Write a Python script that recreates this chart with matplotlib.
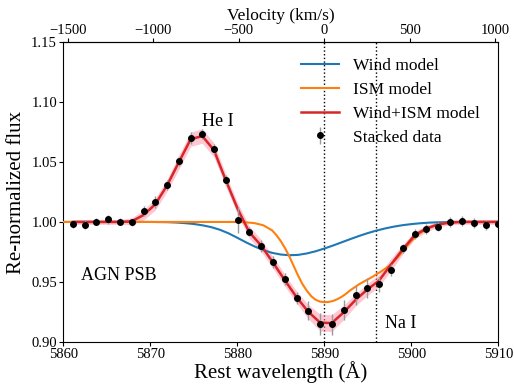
import numpy as np
import matplotlib
matplotlib.use("Agg")
import matplotlib.pyplot as plt

plt.rcParams['font.family'] = ['Liberation Serif', 'DejaVu Serif']
plt.rcParams['axes.unicode_minus'] = True

# stacked spectrum (rest wavelength, flux, error)
wave = [5861.11, 5862.46, 5863.79, 5865.17, 5866.52, 5867.86, 5869.24, 5870.57,
        5871.92, 5873.26, 5874.64, 5875.98, 5877.32, 5878.67, 5880.04, 5881.38,
        5882.72, 5884.07, 5885.45, 5886.83, 5888.16, 5889.51, 5890.85, 5892.23,
        5893.61, 5894.94, 5896.29, 5897.67, 5899.01, 5900.39, 5901.72, 5903.10,
        5904.48, 5905.83, 5907.17, 5908.55, 5909.93]
flux = [0.998, 0.9977, 1.0002, 1.0022, 1.0002, 0.9997, 1.0091, 1.0166,
        1.0308, 1.0506, 1.0698, 1.0734, 1.0609, 1.0348, 1.0016, 0.9919,
        0.9802, 0.9666, 0.9521, 0.9365, 0.9259, 0.9148, 0.9145, 0.9265,
        0.9387, 0.9448, 0.9479, 0.9601, 0.978, 0.9899, 0.9939, 0.9961,
        1.0002, 1.0008, 0.9989, 0.9972, 0.9985]
err = [0.003, 0.004, 0.003, 0.004, 0.003, 0.003, 0.004, 0.005,
       0.004, 0.004, 0.005, 0.004, 0.004, 0.004, 0.011, 0.004,
       0.005, 0.005, 0.005, 0.005, 0.008, 0.009, 0.009, 0.008,
       0.008, 0.008, 0.006, 0.005, 0.004, 0.004, 0.004, 0.004,
       0.004, 0.004, 0.004, 0.004, 0.004]

# combined model on the data grid, with its uncertainty band
model = [1.0, 1.0, 1.0, 1.0, 1.0, 1.0005, 1.0058, 1.0147,
         1.0303, 1.0495, 1.069, 1.0718, 1.060, 1.035, 1.011, 0.9915,
         0.9805, 0.9665, 0.9515, 0.937, 0.925, 0.916, 0.9155, 0.9245,
         0.935, 0.9435, 0.951, 0.9645, 0.977, 0.989, 0.9945, 0.998,
         0.9995, 1.0, 1.0, 1.0, 1.0]
model_err = [0.002, 0.002, 0.002, 0.002, 0.002, 0.003, 0.004, 0.005,
             0.005, 0.006, 0.006, 0.006, 0.006, 0.005, 0.005, 0.005,
             0.005, 0.005, 0.005, 0.005, 0.006, 0.007, 0.007, 0.006,
             0.005, 0.005, 0.005, 0.005, 0.004, 0.003, 0.003, 0.002,
             0.002, 0.002, 0.002, 0.002, 0.002]

# wind component
wind_wave = [5860, 5870, 5872, 5873, 5874, 5875, 5876, 5877, 5878, 5879, 5880,
             5881, 5882, 5883, 5884, 5885, 5886, 5887, 5888, 5889, 5890, 5891,
             5892, 5893, 5894, 5895, 5896, 5897, 5898, 5899, 5900, 5901, 5902,
             5903, 5905, 5910]
wind_flux = [1.0, 1.0, 0.9998, 0.9995, 0.999, 0.9983, 0.9972, 0.9957, 0.9935,
             0.9905, 0.9868, 0.983, 0.9795, 0.9765, 0.9742, 0.9728, 0.9722,
             0.9725, 0.9737, 0.9755, 0.9778, 0.9803, 0.983, 0.9857, 0.9883,
             0.9907, 0.9928, 0.9946, 0.9961, 0.9973, 0.9982, 0.9989, 0.9994,
             0.9997, 1.0, 1.0]

# ISM component
ism_wave = [5860, 5880, 5881, 5882, 5883, 5884, 5884.5, 5885, 5885.5, 5886,
            5886.5, 5887, 5887.5, 5888, 5888.5, 5889, 5889.5, 5890, 5890.5,
            5891, 5891.5, 5892, 5892.5, 5893, 5893.5, 5894, 5894.5, 5895,
            5895.5, 5896, 5896.5, 5897, 5897.5, 5898, 5898.5, 5899, 5899.5,
            5900, 5900.5, 5901, 5901.5, 5902, 5903, 5904, 5905, 5906, 5910]
ism_flux = [1.0, 1.0, 0.9997, 0.999, 0.9972, 0.993, 0.989, 0.984, 0.978, 0.971,
            0.963, 0.955, 0.948, 0.9425, 0.938, 0.935, 0.9335, 0.933, 0.9332,
            0.934, 0.9355, 0.9375, 0.940, 0.943, 0.9455, 0.948, 0.950, 0.952,
            0.954, 0.9563, 0.9585, 0.961, 0.9635, 0.967, 0.971, 0.9755, 0.980,
            0.984, 0.9875, 0.9905, 0.993, 0.995, 0.9978, 0.9992, 0.9998, 1.0, 1.0]

lam0 = 5890.0
c_kms = 299792.458


def to_vel(x):
    return (np.asarray(x) - lam0) / lam0 * c_kms


def to_wave(v):
    return lam0 * (1 + np.asarray(v) / c_kms)


fig = plt.figure(figsize=(5.14, 3.85), dpi=100)
ax = fig.add_axes([0.123, 0.1125, 0.8465, 0.7775])

ax.plot(wind_wave, wind_flux, color='#1f77b4', lw=1.5, label='Wind model', zorder=3)
ax.plot(ism_wave, ism_flux, color='#ff7f0e', lw=1.5, label='ISM model', zorder=3)
lo = np.array(model) - np.array(model_err)
hi = np.array(model) + np.array(model_err)
ax.fill_between(wave, lo, hi, color='#ff8fa8', alpha=0.5, lw=0, zorder=2)
ax.plot(wave, model, color='#d62728', lw=1.8, label='Wind+ISM model', zorder=4)
ax.errorbar(wave, flux, yerr=err, fmt='o', color='black', ms=4,
            ecolor='#999999', elinewidth=1, label='Stacked data', zorder=5)

ax.axvline(5890, color='black', ls=':', lw=1, zorder=1)
ax.axvline(5896, color='black', ls=':', lw=1, zorder=1)

ax.text(5876.0, 1.077, 'He I', fontsize=13, ha='left', va='bottom')
ax.text(5897.0, 0.908, 'Na I', fontsize=13, ha='left', va='bottom')
ax.text(5862.1, 0.9485, 'AGN PSB', fontsize=13, ha='left', va='bottom')

ax.set_xlim(5860, 5910)
ax.set_ylim(0.90, 1.15)
ax.set_xticks(np.arange(5860, 5911, 10))
ax.set_yticks(np.arange(0.90, 1.151, 0.05))
ax.set_yticklabels(['{:.2f}'.format(v) for v in np.arange(0.90, 1.151, 0.05)])
ax.tick_params(labelsize=10.5, length=3, width=0.8, pad=1.5)
ax.set_xlabel('Rest wavelength (Å)', fontsize=15, labelpad=0)
ax.set_ylabel('Re-normalized flux', fontsize=15, labelpad=4)

top = ax.secondary_xaxis('top', functions=(to_vel, to_wave))
top.set_xticks([-1500, -1000, -500, 0, 500, 1000])
top.tick_params(labelsize=10.5, length=3, width=0.8, pad=1.0)
top.set_xlabel('Velocity (km/s)', fontsize=12.5, labelpad=2.5)

ax.legend(loc='upper right', frameon=False, fontsize=12.5, handlelength=2.2,
          labelspacing=0.45, borderaxespad=0.3, bbox_to_anchor=(0.985, 0.99))

fig.savefig('out.png', dpi=100)
